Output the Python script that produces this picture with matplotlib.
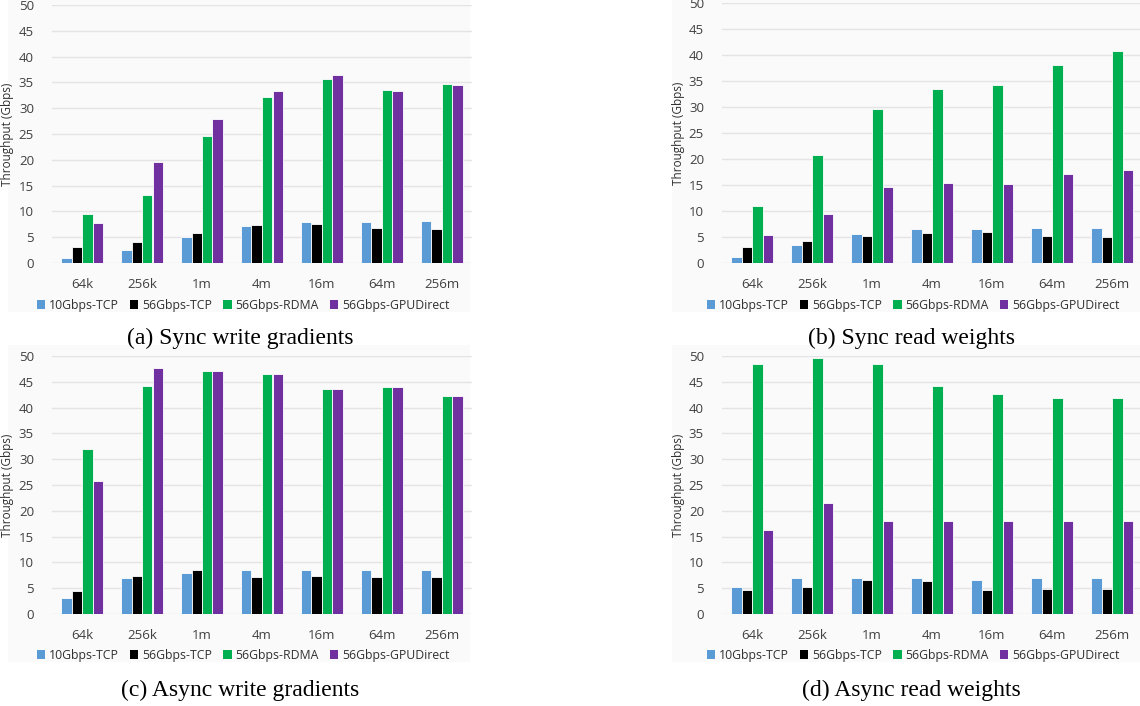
import numpy as np
import matplotlib.pyplot as plt
from matplotlib.patches import Rectangle, Patch

sizes = ["64k", "256k", "1m", "4m", "16m", "64m", "256m"]
series = ["10Gbps-TCP", "56Gbps-TCP", "56Gbps-RDMA", "56Gbps-GPUDirect"]
colors = ["#5B9BD5", "#000000", "#00B050", "#7030A0"]

# (a) Sync write gradients
sync_write_10tcp = [1.0, 2.6, 5.1, 7.2, 7.9, 7.9, 8.1]
sync_write_56tcp = [3.1, 4.1, 5.8, 7.4, 7.5, 6.7, 6.6]
sync_write_rdma = [9.4, 13.2, 24.6, 32.1, 35.7, 33.5, 34.6]
sync_write_gpud = [7.8, 19.5, 27.9, 33.4, 36.5, 33.4, 34.5]

# (b) Sync read weights
sync_read_10tcp = [1.2, 3.4, 5.6, 6.5, 6.5, 6.7, 6.8]
sync_read_56tcp = [3.0, 4.2, 5.1, 5.8, 6.0, 5.1, 5.0]
sync_read_rdma = [11.0, 20.8, 29.6, 33.5, 34.2, 38.1, 40.7]
sync_read_gpud = [5.4, 9.4, 14.6, 15.4, 15.2, 17.1, 17.9]

# (c) Async write gradients
async_write_10tcp = [3.1, 6.9, 7.9, 8.6, 8.6, 8.6, 8.6]
async_write_56tcp = [4.4, 7.3, 8.6, 7.2, 7.4, 7.1, 7.1]
async_write_rdma = [32.0, 44.1, 47.0, 46.5, 43.6, 43.9, 42.3]
async_write_gpud = [25.7, 47.6, 47.1, 46.6, 43.6, 43.9, 42.3]

# (d) Async read weights
async_read_10tcp = [5.3, 6.9, 7.0, 6.9, 6.6, 6.9, 6.9]
async_read_56tcp = [4.7, 5.2, 6.5, 6.3, 4.6, 4.9, 4.9]
async_read_rdma = [48.4, 49.7, 48.4, 44.1, 42.6, 41.9, 41.9]
async_read_gpud = [16.2, 21.6, 18.1, 18.1, 18.1, 18.1, 18.1]

panels = [
    ("(a) Sync write gradients", [sync_write_10tcp, sync_write_56tcp, sync_write_rdma, sync_write_gpud]),
    ("(b) Sync read weights", [sync_read_10tcp, sync_read_56tcp, sync_read_rdma, sync_read_gpud]),
    ("(c) Async write gradients", [async_write_10tcp, async_write_56tcp, async_write_rdma, async_write_gpud]),
    ("(d) Async read weights", [async_read_10tcp, async_read_56tcp, async_read_rdma, async_read_gpud]),
]

W, H = 1140, 706
fig = plt.figure(figsize=(W / 100, H / 100), dpi=100)

# pixel layout: axes left, zero y, top y, background box, legend y, caption x, caption y, ylabel x
layout = [
    (52, 263, 5, (8, 0, 470, 312), 305, 240, 338, 14),
    (722, 263, 3, (672, 0, 1140, 312), 305, 911, 338, 685),
    (52, 614, 356, (8, 345, 470, 662), 655, 240, 690, 14),
    (722, 614, 356, (672, 345, 1140, 662), 655, 911, 690, 685),
]

x = np.arange(len(sizes))
bw = 0.175
tick_color = "#404040"

for (caption, vals), (left, y0, y50, box, leg_y, cap_x, cap_y, ylab_x) in zip(panels, layout):
    # faint chart background box
    bx0, by0, bx1, by1 = box
    fig.patches.append(Rectangle((bx0 / W, 1 - by1 / H), (bx1 - bx0) / W, (by1 - by0) / H,
                                 transform=fig.transFigure, facecolor="#FAFAFA",
                                 edgecolor="none", zorder=-10))
    ax = fig.add_axes([left / W, 1 - y0 / H, 420 / W, (y0 - y50) / H])
    ax.set_facecolor("none")
    for i, (v, c) in enumerate(zip(vals, colors)):
        ax.bar(x + (i - 1.5) * bw, v, width=bw, color=c, edgecolor="white",
               linewidth=0.6, zorder=3)
    ax.set_xlim(-0.5, 6.5)
    ax.set_ylim(0, 50)
    ax.set_yticks(range(0, 51, 5))
    ax.set_xticks(x)
    ax.set_xticklabels(sizes)
    ax.grid(axis="y", color="#E6E3E6", linewidth=1.0, zorder=0)
    for s in ax.spines.values():
        s.set_visible(False)
    ax.tick_params(length=0, labelsize=9.5, colors=tick_color, pad=13)
    ax.tick_params(axis="x", pad=11)
    for lab in ax.get_xticklabels() + ax.get_yticklabels():
        lab.set_family("Open Sans")
    ax.set_ylabel("Throughput (Gbps)", fontsize=8.5, family="Open Sans", color="#303030")
    ax.yaxis.set_label_coords((ylab_x - left) / 420, 0.5)

    handles = [Patch(facecolor=c, edgecolor="none") for c in colors]
    fig.legend(handles, series, loc="center", ncol=4,
               bbox_to_anchor=((left - 52 + 243) / W, 1 - leg_y / H),
               frameon=False, prop={"family": "Open Sans", "size": 8.8},
               handlelength=0.7, handleheight=0.7, handletextpad=0.3,
               columnspacing=0.9, labelcolor="#303030", borderpad=0)

    fig.text(cap_x / W, 1 - cap_y / H, caption, ha="center", va="center",
             family="Liberation Serif", fontsize=17)

fig.savefig("out.png", dpi=100)
